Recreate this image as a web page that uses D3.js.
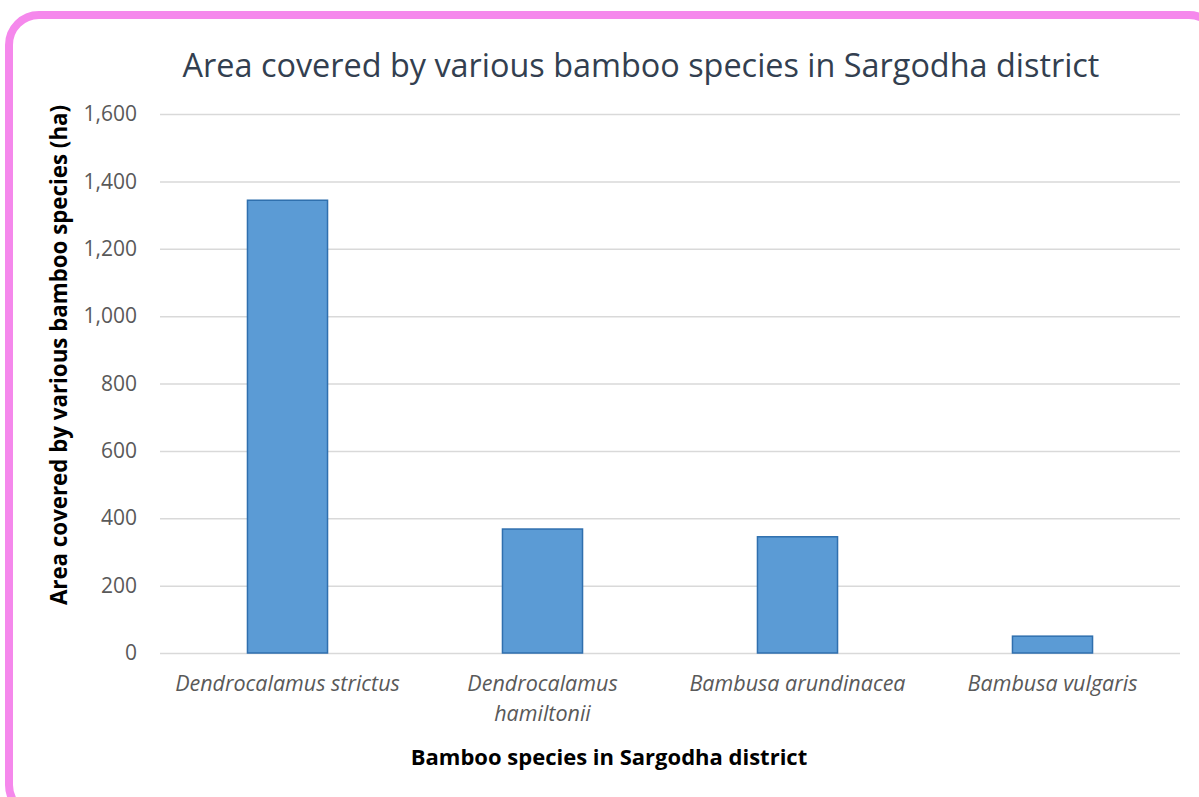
<!DOCTYPE html>
<html>
<head>
<meta charset="utf-8">
<script src="https://cdn.jsdelivr.net/npm/d3@7"></script>
<style>
  html, body { margin: 0; padding: 0; background: #fff; }
  svg { display: block; }
  text { font-family: "Open Sans", sans-serif; }
</style>
</head>
<body>
<svg id="chart" width="1199" height="797"></svg>
<script>
// Bamboo species and the area (ha) each covers in Sargodha district
const species = [
  ["Dendrocalamus strictus"],
  ["Dendrocalamus", "hamiltonii"],
  ["Bambusa arundinacea"],
  ["Bambusa vulgaris"]
];
const areaHa = [1344, 368, 345, 50];
const yTicks = [0, 200, 400, 600, 800, 1000, 1200, 1400, 1600];

const titleText = "Area covered by various bamboo species in Sargodha district";
const xTitle = "Bamboo species in Sargodha district";
const yTitle = "Area covered by various bamboo species (ha)";

const svg = d3.select("#chart");
const plot = { left: 160, right: 1180, top: 114, bottom: 653 };

// rounded pink frame, running off the right and bottom edges
svg.append("rect")
  .attr("x", 9).attr("y", 15)
  .attr("width", 1210).attr("height", 800)
  .attr("rx", 30).attr("ry", 30)
  .attr("fill", "#fff")
  .attr("stroke", "#f588ec")
  .attr("stroke-width", 8);

const keys = species.map(d => d.join(" "));
const x = d3.scaleBand()
  .domain(keys)
  .range([plot.left, plot.right])
  .paddingInner(0.686)
  .paddingOuter(0.343);

const y = d3.scaleLinear()
  .domain([0, 1600])
  .range([plot.bottom, plot.top]);

// horizontal gridlines and value labels
const yAxis = d3.axisLeft(y)
  .tickValues(yTicks)
  .tickSize(-(plot.right - plot.left))
  .tickPadding(23)
  .tickFormat(d3.format(","));

const gy = svg.append("g")
  .attr("transform", `translate(${plot.left},0)`)
  .call(yAxis);
gy.select(".domain").remove();
gy.selectAll(".tick line").attr("stroke", "#d9d9d9").attr("stroke-width", 1.5);
gy.selectAll(".tick text")
  .attr("fill", "#595959")
  .style("font-size", "21px");

// bars
svg.append("g")
  .selectAll("rect")
  .data(areaHa)
  .join("rect")
  .attr("x", (d, i) => x(keys[i]))
  .attr("y", d => y(d))
  .attr("width", x.bandwidth())
  .attr("height", d => y(0) - y(d))
  .attr("fill", "#5b9bd5")
  .attr("stroke", "#2f6fae")
  .attr("stroke-width", 1.5);

// category labels (italic, may wrap onto two lines)
const xl = svg.append("g")
  .selectAll("text")
  .data(species)
  .join("text")
  .attr("x", (d, i) => x(keys[i]) + x.bandwidth() / 2)
  .attr("y", 691)
  .attr("text-anchor", "middle")
  .attr("fill", "#595959")
  .style("font-size", "21.5px")
  .style("font-style", "italic");
xl.each(function(lines) {
  const t = d3.select(this);
  lines.forEach((line, j) => {
    t.append("tspan")
      .attr("x", t.attr("x"))
      .attr("dy", j === 0 ? 0 : 30)
      .text(line);
  });
});

// title
svg.append("text")
  .attr("x", 641).attr("y", 77)
  .attr("text-anchor", "middle")
  .attr("fill", "#333f50")
  .style("font-size", "32.4px")
  .text(titleText);

// axis titles
svg.append("text")
  .attr("x", 609).attr("y", 765)
  .attr("text-anchor", "middle")
  .attr("fill", "#000")
  .style("font-size", "22px")
  .style("font-weight", "bold")
  .text(xTitle);

svg.append("text")
  .attr("transform", "translate(67,355) rotate(-90)")
  .attr("text-anchor", "middle")
  .attr("fill", "#000")
  .style("font-size", "22.3px")
  .style("font-weight", "bold")
  .text(yTitle);
</script>
</body>
</html>
